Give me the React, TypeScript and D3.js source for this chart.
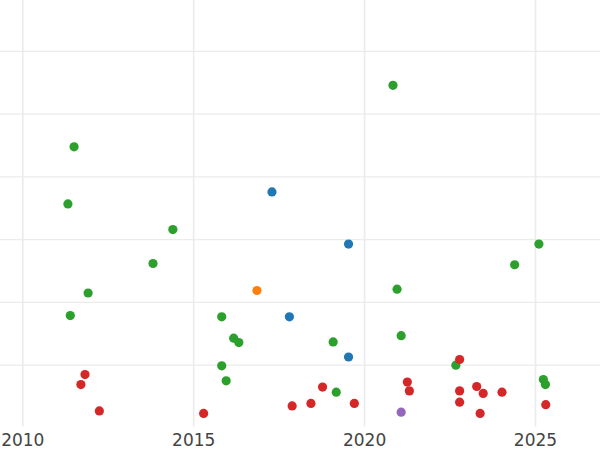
import React from "react";
import * as d3 from "d3";

const xTicks = [2010, 2015, 2020, 2025];
const yGrid = [1, 2, 3, 4, 5, 6];

const blueX = [2017.29, 2019.53, 2017.8, 2019.53];
const blueY = [3.76, 2.93, 1.77, 1.13];

const orangeX = [2016.85];
const orangeY = [2.19];

const greenX = [2020.83, 2011.5, 2011.32, 2014.39, 2013.81, 2011.91, 2011.39, 2015.82, 2016.17, 2016.32, 2015.82, 2015.95, 2020.95, 2021.07, 2019.08, 2019.17, 2022.67, 2024.39, 2025.1, 2025.23, 2025.29];
const greenY = [5.46, 4.48, 3.57, 3.16, 2.62, 2.15, 1.79, 1.77, 1.43, 1.36, 0.99, 0.75, 2.21, 1.47, 1.37, 0.57, 1.0, 2.6, 2.93, 0.77, 0.69];

const redX = [2011.82, 2011.7, 2012.24, 2015.29, 2017.88, 2018.43, 2018.77, 2019.7, 2021.25, 2021.31, 2022.78, 2022.78, 2022.78, 2023.28, 2023.47, 2023.38, 2024.02, 2025.3];
const redY = [0.85, 0.69, 0.27, 0.23, 0.35, 0.39, 0.65, 0.39, 0.73, 0.59, 1.09, 0.59, 0.41, 0.66, 0.55, 0.23, 0.57, 0.37];

const purpleX = [2021.07];
const purpleY = [0.25];

const series = [
  { color: "#1f77b4", xs: blueX, ys: blueY },
  { color: "#ff7f0e", xs: orangeX, ys: orangeY },
  { color: "#2ca02c", xs: greenX, ys: greenY },
  { color: "#d62728", xs: redX, ys: redY },
  { color: "#9467bd", xs: purpleX, ys: purpleY },
];

export default function App() {
  const W = 600;
  const H = 450;
  const plotBottom = 426.7;
  const x = d3.scaleLinear().domain([2010, 2025]).range([22.8, 535.5]);
  const y = d3.scaleLinear().domain([0, 6]).range([427.9, 51.4]);

  return (
    <svg
      width={W}
      height={H}
      style={{ position: "absolute", left: 0, top: 0, background: "#fff" }}
    >
      <defs>
        <clipPath id="plotclip">
          <rect x={0} y={0} width={W} height={plotBottom} />
        </clipPath>
      </defs>
      <g clipPath="url(#plotclip)">
        {yGrid.map((v) => (
          <line key={"h" + v} x1={0} x2={W} y1={y(v)} y2={y(v)} stroke="#ebebeb" strokeWidth={1.3} />
        ))}
        {xTicks.map((t) => (
          <line key={"v" + t} x1={x(t)} x2={x(t)} y1={0} y2={plotBottom} stroke="#ebebeb" strokeWidth={1.6} />
        ))}
        {series.map((s, si) =>
          s.xs.map((xv, i) => (
            <circle key={si + "-" + i} cx={x(xv)} cy={y(s.ys[i])} r={4.6} fill={s.color} />
          ))
        )}
      </g>
      {xTicks.map((t) => (
        <text
          key={"t" + t}
          x={x(t)}
          y={446}
          textAnchor="middle"
          fontFamily="DejaVu Sans"
          fontSize={17}
          fill="#444"
        >
          {t}
        </text>
      ))}
    </svg>
  );
}
